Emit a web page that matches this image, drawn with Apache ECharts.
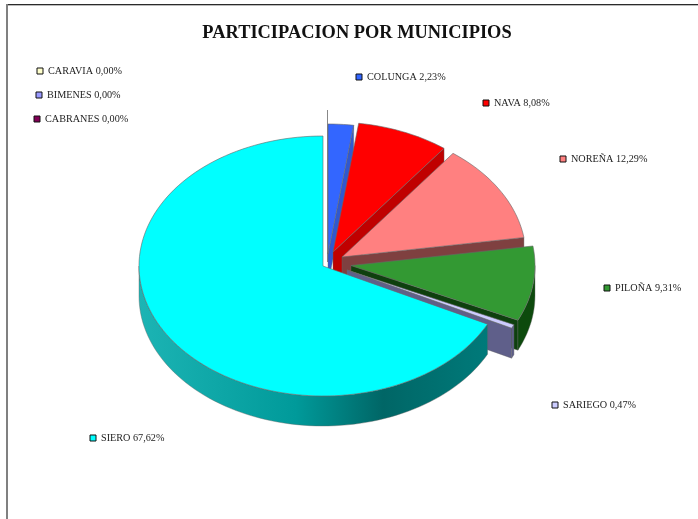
<!DOCTYPE html>
<html>
<head>
<meta charset="utf-8">
<style>html,body{margin:0;padding:0;background:#fff}#main{width:698px;height:519px}</style>
<script src="https://cdn.jsdelivr.net/npm/echarts@6/dist/echarts.min.js"></script>
</head>
<body>
<div id="main"></div>
<script>
// data
var categories = ['CARAVIA', 'BIMENES', 'CABRANES', 'COLUNGA', 'NAVA', 'NOREÑA', 'PILOÑA', 'SARIEGO', 'SIERO'];
var shares = [0, 0, 0, 2.23, 8.08, 12.29, 9.31, 0.47, 67.62];

// style per slice
var topColors = ['#ffffcc', '#9999ff', '#800055', '#3366ff', '#ff0000', '#ff8080', '#339933', '#ccccff', '#00ffff'];
var wallColors = ['#999977', '#5c5c99', '#4d0033', '#3058d0', '#c00000', '#7f4040', '#0e400e', '#5f5f8a', '#008080'];
var arcColors = ['#999977', '#5c5c99', '#4d0033', '#2347b3', '#b30000', '#7f4040', '#0d4a0d', '#5f5f8a', null];

// layout: pie centre of each exploded slice, label box positions
var centers = [[323, 266], [323, 266], [323, 266], [328, 254], [333, 252], [342, 257], [351, 265.5], [347, 270], [323, 266]];
var labelPos = [[40, 71], [39, 95], [37, 119], [359, 77], [486, 103], [563, 159], [607, 288], [555, 405], [93, 438]];
var rx = 184, ry = 130, depth = 30;

var total = shares.reduce(function (a, b) { return a + b; }, 0);
var starts = [], acc = 0;
shares.forEach(function (v) { starts.push(acc / total * 360); acc += v; });

function pt(c, deg, dy) {
  var r = deg * Math.PI / 180;
  return [c[0] + rx * Math.sin(r), c[1] - ry * Math.cos(r) + (dy || 0)];
}
function arc(c, a0, a1, dy) {
  var pts = [], n = Math.max(2, Math.ceil((a1 - a0) / 2));
  for (var i = 0; i <= n; i++) pts.push(pt(c, a0 + (a1 - a0) * i / n, dy));
  return pts;
}

function renderSlice(params, api) {
  var i = api.value(0), v = api.value(1);
  if (!v) return { type: 'group', children: [] };
  var a0 = starts[i], a1 = a0 + v / total * 360, c = centers[i];
  var kids = [];
  // radial wall on the closing edge, faces the viewer only before 180 deg
  if (a1 < 180) {
    var e = pt(c, a1);
    kids.push({
      type: 'polygon',
      shape: { points: [c, e, [e[0], e[1] + depth], [c[0], c[1] + depth]] },
      style: { fill: wallColors[i], stroke: '#666', lineWidth: 0.4 }
    });
  }
  // outer rim, only the front half of the ellipse shows
  var f0 = Math.max(a0, 90), f1 = Math.min(a1, 270);
  if (f1 > f0) {
    var fill = arcColors[i];
    if (fill === null) {
      fill = new echarts.graphic.LinearGradient(0, 0, 1, 0, [
        { offset: 0, color: '#1cb4b4' },
        { offset: 0.45, color: '#009a9a' },
        { offset: 0.7, color: '#006666' },
        { offset: 1, color: '#007a7a' }
      ]);
    }
    kids.push({
      type: 'polygon',
      shape: { points: arc(c, f0, f1).concat(arc(c, f0, f1, depth).reverse()) },
      style: { fill: fill, stroke: '#666', lineWidth: 0.4 }
    });
  }
  kids.push({
    type: 'polygon',
    shape: { points: [c].concat(arc(c, a0, a1)) },
    style: { fill: topColors[i], stroke: '#666', lineWidth: 0.6 }
  });
  return { type: 'group', children: kids };
}

function renderLabel(params, api) {
  var i = api.value(0), p = labelPos[i];
  return {
    type: 'group',
    children: [{
      type: 'rect',
      shape: { x: p[0] - 3, y: p[1] - 3, width: 6, height: 6 },
      style: { fill: topColors[i], stroke: '#111', lineWidth: 1 }
    }, {
      type: 'text',
      style: {
        x: p[0] + 8, y: p[1] + 0.5,
        text: categories[i] + ' ' + api.value(1).toFixed(2).replace('.', ',') + '%',
        fill: '#222', font: '10.2px "Liberation Serif"', textVerticalAlign: 'middle'
      }
    }]
  };
}

var rows = categories.map(function (n, i) { return [i, shares[i]]; });
var chart = echarts.init(document.getElementById('main'));
chart.setOption({
  animation: false,
  backgroundColor: '#fff',
  title: {
    text: 'PARTICIPACION POR MUNICIPIOS',
    left: 352, top: 19, textAlign: 'center',
    textStyle: { fontFamily: 'Liberation Serif', fontSize: 18.4, fontWeight: 'bold', color: '#111' }
  },
  graphic: [
    { type: 'line', shape: { x1: 6, y1: 5.5, x2: 698, y2: 5.5 }, style: { stroke: '#bbb', lineWidth: 1 } },
    { type: 'line', shape: { x1: 6, y1: 4.5, x2: 698, y2: 4.5 }, style: { stroke: '#2b2b2b', lineWidth: 1 } },
    { type: 'line', shape: { x1: 7, y1: 4, x2: 7, y2: 519 }, style: { stroke: '#808080', lineWidth: 2 } },
    { type: 'line', shape: { x1: 327.5, y1: 110, x2: 327.5, y2: 262 }, style: { stroke: '#888', lineWidth: 1 } }
  ],
  series: [
    { type: 'custom', coordinateSystem: 'none', silent: true, data: rows, renderItem: renderSlice },
    { type: 'custom', coordinateSystem: 'none', silent: true, data: rows, renderItem: renderLabel }
  ]
});
</script>
</body>
</html>
